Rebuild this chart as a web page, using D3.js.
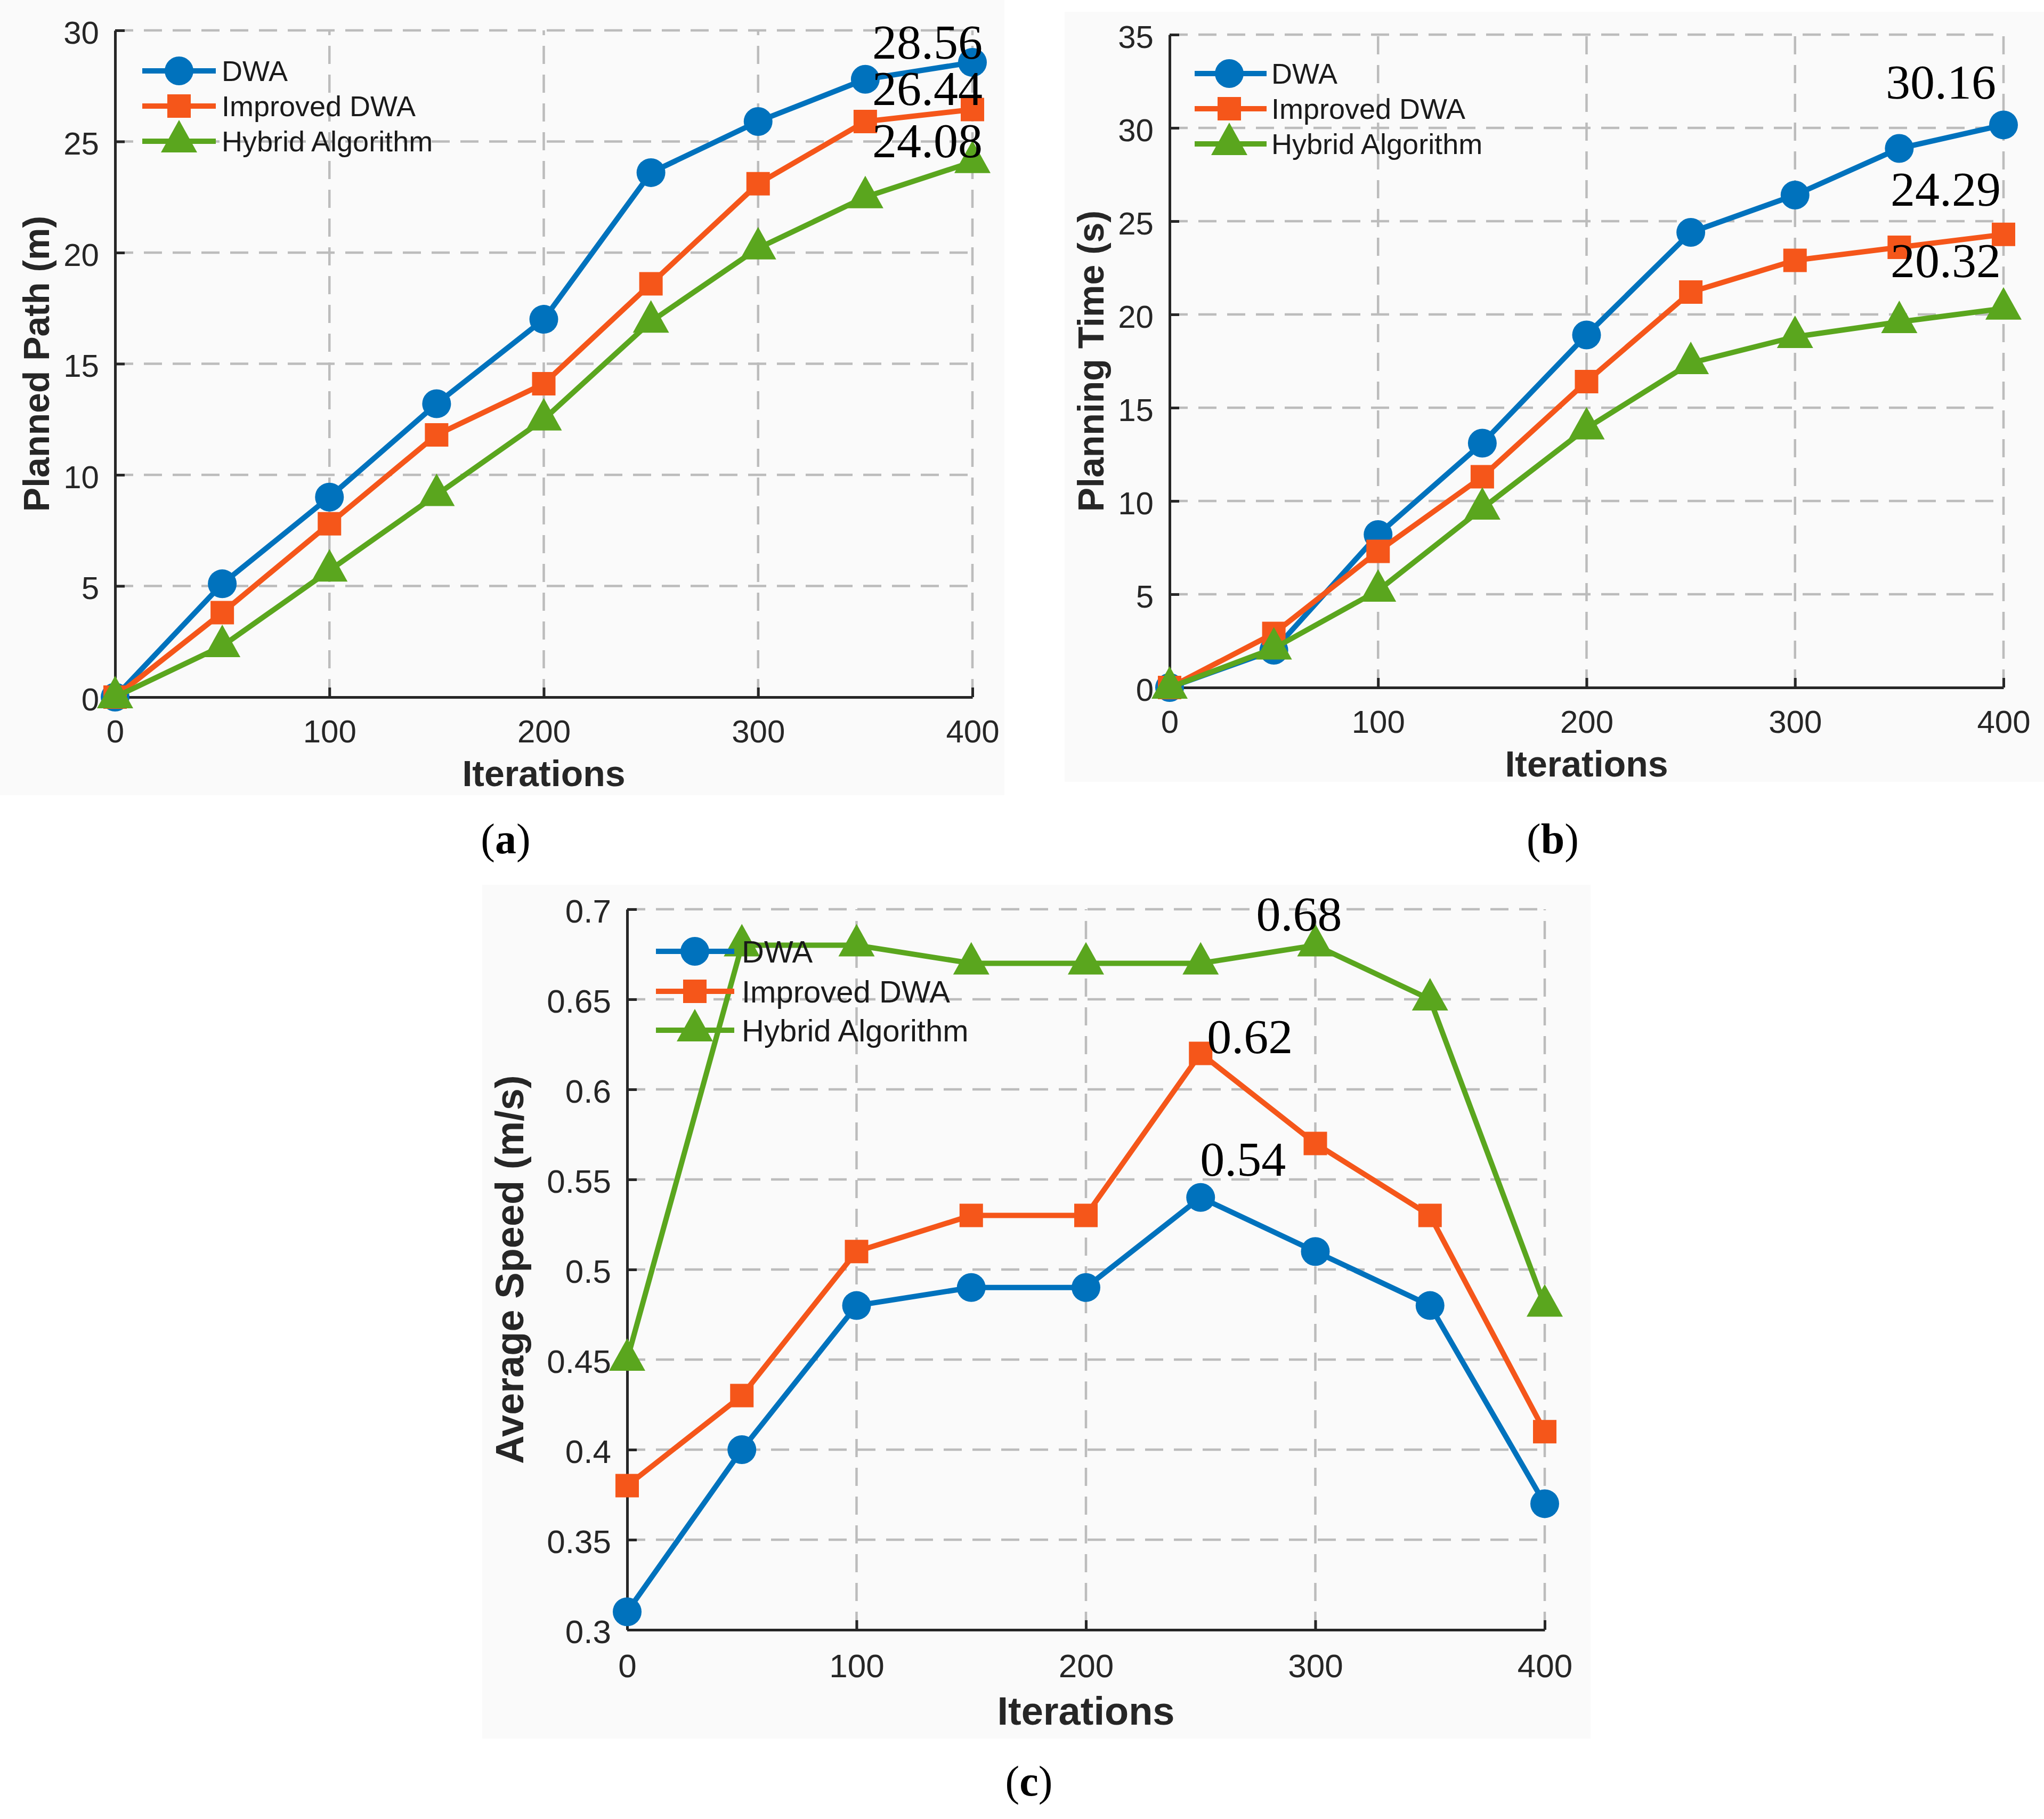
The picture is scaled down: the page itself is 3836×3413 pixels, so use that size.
<!DOCTYPE html>
<html>
<head>
<meta charset="utf-8">
<script src="https://cdn.jsdelivr.net/npm/d3@7/dist/d3.min.js"></script>
<style>
  html, body { margin: 0; padding: 0; background: #ffffff; }
  svg { display: block; }
</style>
</head>
<body>
<script>
// ---------------- DATA ----------------
const seriesNames = ["DWA", "Improved DWA", "Hybrid Algorithm"];
const iterations = [0, 50, 100, 150, 200, 250, 300, 350, 400];

// (a) Planned Path (m)
const pathDWA      = [0, 5.1, 9.0, 13.2, 17.0, 23.6, 25.9, 27.8, 28.56];
const pathImproved = [0, 3.8, 7.8, 11.8, 14.1, 18.6, 23.1, 25.9, 26.44];
const pathHybrid   = [0, 2.3, 5.7, 9.1, 12.5, 16.9, 20.2, 22.5, 24.08];

// (b) Planning Time (s)
const timeDWA      = [0, 2.0, 8.2, 13.1, 18.9, 24.4, 26.4, 28.9, 30.16];
const timeImproved = [0, 2.9, 7.3, 11.3, 16.4, 21.2, 22.9, 23.6, 24.29];
const timeHybrid   = [0, 2.1, 5.2, 9.6, 13.9, 17.4, 18.8, 19.6, 20.32];

// (c) Average Speed (m/s)
const speedDWA      = [0.31, 0.40, 0.48, 0.49, 0.49, 0.54, 0.51, 0.48, 0.37];
const speedImproved = [0.38, 0.43, 0.51, 0.53, 0.53, 0.62, 0.57, 0.53, 0.41];
const speedHybrid   = [0.45, 0.68, 0.68, 0.67, 0.67, 0.67, 0.68, 0.65, 0.48];

// ticks
const xTicks = [0, 100, 200, 300, 400];
const xTickLabels = ["0", "100", "200", "300", "400"];
const pathTicks = [0, 5, 10, 15, 20, 25, 30];
const pathTickLabels = ["0", "5", "10", "15", "20", "25", "30"];
const timeTicks = [0, 5, 10, 15, 20, 25, 30, 35];
const timeTickLabels = ["0", "5", "10", "15", "20", "25", "30", "35"];
const speedTicks = [0.3, 0.35, 0.4, 0.45, 0.5, 0.55, 0.6, 0.65, 0.7];
const speedTickLabels = ["0.3", "0.35", "0.4", "0.45", "0.5", "0.55", "0.6", "0.65", "0.7"];

// annotations (text, x value, y value)
const pathNotes  = [["28.56", 400, 28.56], ["26.44", 400, 26.44], ["24.08", 400, 24.08]];
const timeNotes  = [["30.16", 400, 30.16], ["24.29", 400, 24.29], ["20.32", 400, 20.32]];
const speedNotes = [["0.68", 300, 0.68], ["0.62", 250, 0.62], ["0.54", 250, 0.54]];

// ---------------- STYLE ----------------
const W = 3836, H = 3413;
const colors = ["#0072BD", "#F5561A", "#5AA61E"];
const markers = ["circle", "square", "triangle"];
const SANS = '"Liberation Sans", Arial, Helvetica, sans-serif';
const SERIF = '"Liberation Serif", "Times New Roman", Times, serif';
const AXIS_COLOR = "#262626";
const GRID_COLOR = "#bcbcbc";
const LINE_W = 10;

const svg = d3.select("body").append("svg")
  .attr("width", W).attr("height", H)
  .attr("viewBox", `0 0 ${W} ${H}`);

svg.append("rect").attr("width", W).attr("height", H).attr("fill", "#ffffff");

function markerPath(type) {
  if (type === "circle") return d3.symbol().type(d3.symbolCircle).size(Math.PI * 27 * 27)();
  if (type === "square") return "M-22,-22H22V22H-22Z";
  return "M0,-40L34,21L-34,21Z";
}

function drawPanel(cfg) {
  const g = svg.append("g");
  // panel background
  g.append("rect")
    .attr("x", cfg.bg[0]).attr("y", cfg.bg[1])
    .attr("width", cfg.bg[2]).attr("height", cfg.bg[3])
    .attr("fill", "#fafafa");

  const x = d3.scaleLinear().domain([0, 400]).range(cfg.xRange);
  const y = d3.scaleLinear().domain(cfg.yDomain).range(cfg.yRange);

  // grid
  const grid = g.append("g").attr("fill", "none").attr("stroke", GRID_COLOR)
    .attr("stroke-width", 4.5).attr("stroke-dasharray", "34,20");
  grid.selectAll("line.h").data(cfg.yTicks.filter((d, i) => i > 0)).enter().append("line")
    .attr("x1", x(0)).attr("x2", x(400))
    .attr("y1", d => y(d)).attr("y2", d => y(d));
  grid.selectAll("line.v").data(xTicks.filter((d, i) => i > 0)).enter().append("line")
    .attr("y1", y(cfg.yDomain[0])).attr("y2", y(cfg.yDomain[1]))
    .attr("x1", d => x(d)).attr("x2", d => x(d));

  // axes
  const xAxis = d3.axisBottom(x).tickValues(xTicks).tickSizeInner(-18).tickSizeOuter(0)
    .tickFormat((d, i) => xTickLabels[i]).tickPadding(0);
  const gx = g.append("g").attr("transform", `translate(0,${y(cfg.yDomain[0])})`).call(xAxis);
  const yAxis = d3.axisLeft(y).tickValues(cfg.yTicks).tickSizeInner(-18).tickSizeOuter(0)
    .tickFormat((d, i) => cfg.yTickLabels[i]).tickPadding(0);
  const gy = g.append("g").attr("transform", `translate(${x(0)},0)`).call(yAxis);
  [gx, gy].forEach(ax => {
    ax.select(".domain").attr("stroke", AXIS_COLOR).attr("stroke-width", 5);
    ax.selectAll(".tick line").attr("stroke", AXIS_COLOR).attr("stroke-width", 5);
    ax.selectAll(".tick text")
      .attr("font-family", SANS).attr("font-size", cfg.tickFs).attr("fill", AXIS_COLOR);
  });
  gx.selectAll(".tick text").attr("y", cfg.xLabelDy).attr("dy", 0);
  gy.selectAll(".tick text").attr("x", -30).attr("dy", cfg.tickFs * 0.4);

  // axis titles
  g.append("text")
    .attr("x", (x(0) + x(400)) / 2).attr("y", y(cfg.yDomain[0]) + cfg.xTitleDy)
    .attr("text-anchor", "middle").attr("font-family", SANS).attr("font-weight", "bold")
    .attr("font-size", cfg.titleFs).attr("fill", AXIS_COLOR).text("Iterations");
  g.append("text")
    .attr("transform", `translate(${cfg.yTitleX},${(y(cfg.yDomain[0]) + y(cfg.yDomain[1])) / 2}) rotate(-90)`)
    .attr("text-anchor", "middle").attr("font-family", SANS).attr("font-weight", "bold")
    .attr("font-size", cfg.yTitleFs).attr("fill", AXIS_COLOR).text(cfg.yTitle);

  // series
  const line = d3.line().x((d, i) => x(iterations[i])).y(d => y(d));
  cfg.series.forEach((vals, s) => {
    g.append("path").datum(vals).attr("d", line)
      .attr("fill", "none").attr("stroke", colors[s]).attr("stroke-width", LINE_W)
      .attr("stroke-linejoin", "round");
    g.selectAll(null).data(vals).enter().append("path")
      .attr("d", markerPath(markers[s]))
      .attr("transform", (d, i) => `translate(${x(iterations[i])},${y(d)})`)
      .attr("fill", colors[s]);
  });

  // legend
  const lg = g.append("g");
  seriesNames.forEach((name, s) => {
    const ly = cfg.legend.y[s];
    lg.append("line").attr("x1", cfg.legend.x1).attr("x2", cfg.legend.x2)
      .attr("y1", ly).attr("y2", ly).attr("stroke", colors[s]).attr("stroke-width", LINE_W);
    lg.append("path").attr("d", markerPath(markers[s]))
      .attr("transform", `translate(${cfg.legend.xm},${ly})`).attr("fill", colors[s]);
    lg.append("text").attr("x", cfg.legend.xt).attr("y", ly + cfg.legendFs * 0.36)
      .attr("font-family", SANS).attr("font-size", cfg.legendFs).attr("fill", "#1a1a1a")
      .text(name);
  });

  // annotations
  cfg.notes.forEach((n, k) => {
    g.append("text")
      .attr("x", x(n[1]) + cfg.noteOff[k][0]).attr("y", y(n[2]) + cfg.noteOff[k][1])
      .attr("text-anchor", cfg.noteAnchor).attr("font-family", SERIF)
      .attr("font-size", 92).attr("fill", "#000").text(n[0]);
  });

  // caption
  const cap = g.append("text").attr("x", cfg.caption[0]).attr("y", cfg.caption[1])
    .attr("text-anchor", "middle").attr("font-family", SERIF).attr("font-size", 80).attr("fill", "#000");
  cap.append("tspan").text("(");
  cap.append("tspan").attr("font-weight", "bold").text(cfg.letter);
  cap.append("tspan").text(")");
}

drawPanel({
  bg: [0, 0, 1885, 1492],
  xRange: [216, 1825], yDomain: [0, 30], yRange: [1308, 57],
  yTicks: pathTicks, yTickLabels: pathTickLabels,
  tickFs: 60, titleFs: 68, yTitleFs: 68, legendFs: 54,
  xLabelDy: 85, xTitleDy: 167, yTitleX: 92, yTitle: "Planned Path (m)",
  series: [pathDWA, pathImproved, pathHybrid],
  legend: { x1: 267, x2: 405, xm: 336, xt: 416, y: [133, 199, 265] },
  notes: pathNotes, noteAnchor: "end", noteOff: [[19, -7], [19, -8], [19, -9]],
  caption: [949, 1601], letter: "a"
});

drawPanel({
  bg: [1998, 22, 1838, 1445],
  xRange: [2195, 3760], yDomain: [0, 35], yRange: [1290, 65],
  yTicks: timeTicks, yTickLabels: timeTickLabels,
  tickFs: 60, titleFs: 68, yTitleFs: 68, legendFs: 54,
  xLabelDy: 85, xTitleDy: 167, yTitleX: 2071, yTitle: "Planning Time (s)",
  series: [timeDWA, timeImproved, timeHybrid],
  legend: { x1: 2242, x2: 2377, xm: 2307, xt: 2386, y: [138, 204, 270] },
  notes: timeNotes, noteAnchor: "end", noteOff: [[-14, -49], [-5, -54], [-5, -59]],
  caption: [2914, 1601], letter: "b"
});

drawPanel({
  bg: [905, 1660, 2080, 1602],
  xRange: [1177, 2899], yDomain: [0.3, 0.7], yRange: [3058, 1706],
  yTicks: speedTicks, yTickLabels: speedTickLabels,
  tickFs: 62, titleFs: 74, yTitleFs: 74, legendFs: 58,
  xLabelDy: 89, xTitleDy: 178, yTitleX: 982, yTitle: "Average Speed (m/s)",
  series: [speedDWA, speedImproved, speedHybrid],
  legend: { x1: 1231, x2: 1378, xm: 1304, xt: 1392, y: [1785, 1860, 1933] },
  notes: speedNotes, noteAnchor: "start", noteOff: [[-111, -28], [12, 0], [-1, -41]],
  caption: [1931, 3369], letter: "c"
});
</script>
</body>
</html>
